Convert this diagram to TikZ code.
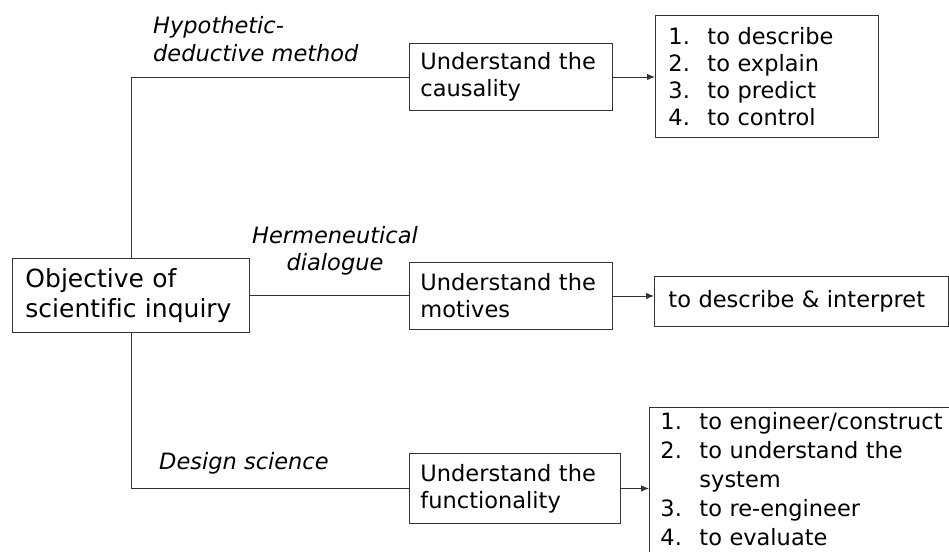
\documentclass[tikz,border=0pt]{standalone}
\usepackage{fontspec}
\setmainfont[Ligatures=NoCommon]{DejaVu Sans}
\usetikzlibrary{arrows.meta}
\begin{document}
\begin{tikzpicture}[x=1pt,y=-1pt,
  box/.style={draw=black!80, line width=0.9pt, rectangle, anchor=north west,
    align=left, inner xsep=11pt, inner ysep=0pt,
    font=\fontsize{22.5}{27}\selectfont},
  link/.style={draw=black!80, line width=0.9pt},
  arrow/.style={link, -{Latex[length=8pt,width=6.5pt]}},
  tag/.style={font=\fontsize{22.5}{28}\selectfont\itshape, inner sep=0pt}
]
\useasboundingbox (0,0) rectangle (949,551);
\clip (0,0) rectangle (949,551);

% root of the tree
\node[box, minimum width=237pt, minimum height=74pt, inner xsep=13pt,
      text width=211pt, font=\fontsize{25}{30}\selectfont]
  (obj) at (12,258) {Objective of\\scientific inquiry};

% three kinds of understanding
\node[box, minimum width=203pt, minimum height=67pt, text width=181pt]
  (b1) at (409,43) {Understand the\\causality};
\node[box, minimum width=203pt, minimum height=67pt, text width=181pt]
  (b2) at (409,262) {Understand the\\motives};
\node[box, minimum width=211pt, minimum height=70pt, text width=189pt]
  (b3) at (409,453) {Understand the\\functionality};

% aims
\newcommand{\li}[1]{\makebox[39pt][l]{#1}}
\node[box, minimum width=223pt, minimum height=122pt, inner xsep=13pt,
      text width=197pt]
  (r1) at (655,15) {\li{1.}to describe\\\li{2.}to explain\\\li{3.}to predict\\\li{4.}to control};
\node[box, minimum width=294pt, minimum height=50pt, inner xsep=14pt,
      text width=266pt]
  (r2) at (654,276) {to describe \& interpret};
\node[box, minimum width=320pt, inner xsep=11pt, inner ysep=5pt,
      text width=298pt, font=\fontsize{22.5}{29}\selectfont]
  (r3) at (649,407) {\li{1.}to engineer/construct\\\li{2.}to understand the\\\li{}system\\\li{3.}to re-engineer\\\li{4.}to evaluate\\\mbox{}};

% method labels
\node[tag, anchor=north west, align=left] (l1) at (153,16) {Hypothetic-\\deductive method};
\node[tag, anchor=north, align=center, font=\fontsize{22.5}{27}\selectfont\itshape] (l2) at (335,226) {Hermeneutical\\dialogue};
\node[tag, anchor=north west] (l3) at (159,452) {Design science};

% connectors
\draw[link] (obj.north) |- (b1.west);
\draw[link] (obj.east) -- (obj.east -| b2.west);
\draw[link] (obj.south) |- (b3.west);
\draw[arrow] (b1.east) -- (b1.east -| r1.west);
\draw[arrow] (b2.east) -- (b2.east -| r2.west);
\draw[arrow] (b3.east) -- (b3.east -| r3.west);
\end{tikzpicture}
\end{document}
